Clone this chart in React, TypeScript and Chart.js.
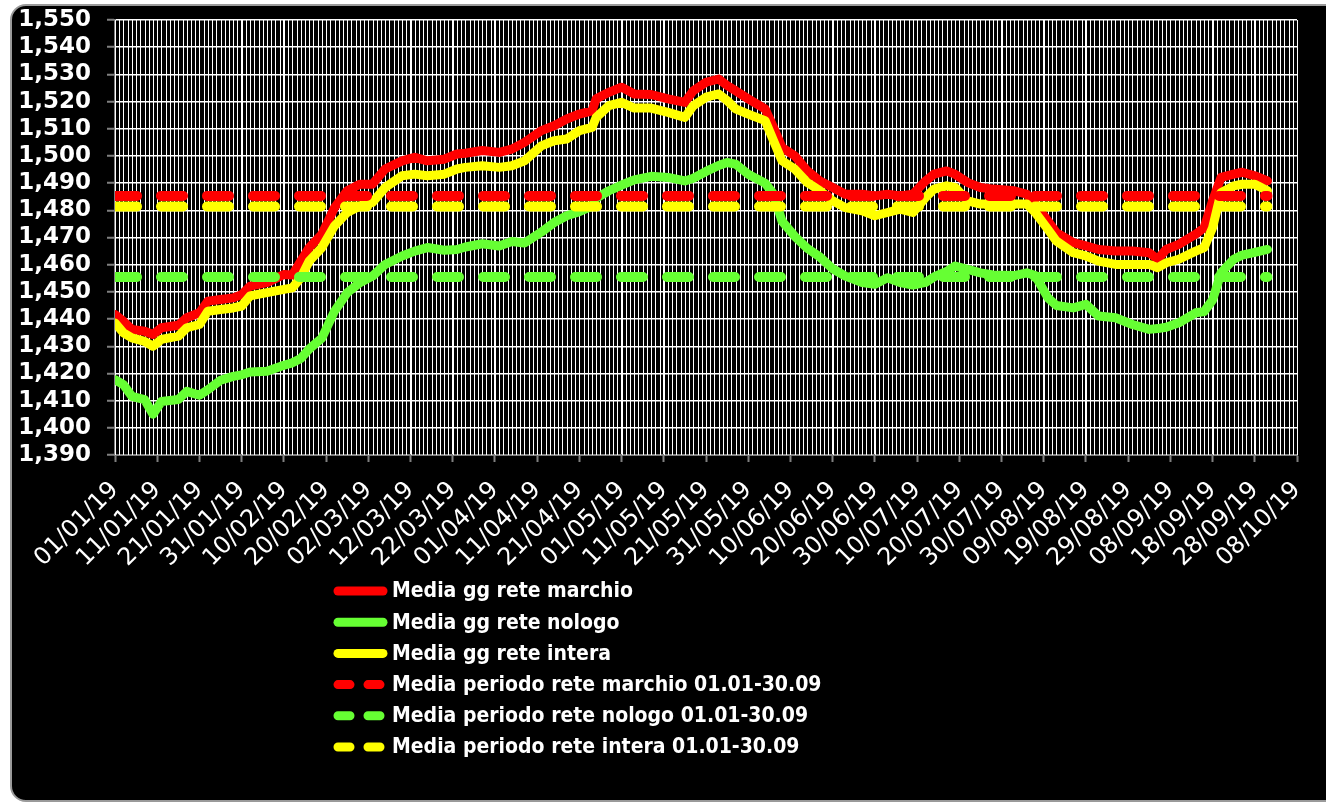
import React, { useEffect, useRef } from 'react';
import { Chart, registerables } from 'chart.js';

Chart.register(...registerables);

// x tick labels, one every 10 days starting 01/01/19 (day 0) up to 08/10/19 (day 280)
const tickLabels = [
  '01/01/19', '11/01/19', '21/01/19', '31/01/19', '10/02/19', '20/02/19', '02/03/19',
  '12/03/19', '22/03/19', '01/04/19', '11/04/19', '21/04/19', '01/05/19', '11/05/19',
  '21/05/19', '31/05/19', '10/06/19', '20/06/19', '30/06/19', '10/07/19', '20/07/19',
  '30/07/19', '09/08/19', '19/08/19', '29/08/19', '08/09/19', '18/09/19', '28/09/19',
  '08/10/19',
];

// day index (0 = 01/01/19) of each sampled value
const days = [
  0, 2, 4, 7, 9, 11, 15, 17, 20, 22, 25, 28, 30, 32, 36, 40, 42, 44, 46, 49, 52, 55, 58, 61, 64, 68, 71, 74, 78, 81, 83, 87,
  91, 94, 97, 101, 104, 107, 110, 113, 114, 117, 120, 123, 127, 131, 135, 137, 140, 143, 145, 147, 150, 154, 156, 158, 161, 164, 167, 170, 173, 177, 180, 183,
  186, 189, 192, 194, 197, 199, 202, 205, 208, 213, 216, 218, 221, 223, 227, 230, 233, 237, 241, 245, 247, 249, 252, 256, 258, 260, 262, 265, 267, 270, 273,
];

const reteMarchio = [
  1441.7, 1439.2, 1436.2, 1435.5, 1434.3, 1436.8, 1437.7, 1440.5, 1442.3, 1446.6, 1447.2, 1447.8, 1449, 1452.1, 1453.4, 1456.4, 1456.2, 1461.3, 1466.3, 1471.2, 1481, 1487.2, 1489.6, 1489.6, 1495.2, 1498.2, 1499.5, 1498.2, 1498.8, 1500.7, 1501, 1502,
  1501.3, 1502.5, 1505, 1509.3, 1511.1, 1513.6, 1515.4, 1516.6, 1521, 1523.4, 1525.3, 1522.8, 1522.6, 1521, 1519.7, 1524, 1527.1, 1528.3, 1525.9, 1524, 1521, 1517.3, 1510.5, 1503.1, 1500.1, 1494.5, 1490.8, 1488.4, 1485.9, 1485.9, 1485.3, 1485.9,
  1485.3, 1485.9, 1490.8, 1493.3, 1494.5, 1493.3, 1490.2, 1488.4, 1487.8, 1487.2, 1485.9, 1482.3, 1476.1, 1471.8, 1468.1, 1466.9, 1465.6, 1465, 1465, 1464.4, 1462, 1465.6, 1467.5, 1471.2, 1473.6, 1483.5, 1492.1, 1493.3, 1494, 1492.7, 1490.8,
];

const reteNologo = [
  1417.7, 1415.9, 1411.6, 1410.4, 1405, 1409.7, 1410.4, 1413.4, 1412, 1414, 1417.5, 1418.9, 1419.5, 1420.5, 1420.8, 1423, 1423.9, 1425.5, 1429, 1433, 1442.9, 1449.7, 1453.4, 1455.8, 1460.1, 1463.2, 1465, 1466.3, 1465.3, 1465.6, 1466.5, 1467.7,
  1466.9, 1468.5, 1468, 1472, 1475.5, 1478, 1479.5, 1481.5, 1484.5, 1487.2, 1489.3, 1491.2, 1492.5, 1492.1, 1490.8, 1491.8, 1494.3, 1496.5, 1497.6, 1497, 1493.3, 1490, 1486, 1476, 1470.5, 1466, 1462.8, 1458.5, 1455.8, 1453.4, 1452.8, 1455.2,
  1453.4, 1452.5, 1453.5, 1455.5, 1457.5, 1459.5, 1458.3, 1457, 1456.2, 1456, 1457, 1456, 1447.8, 1445, 1444.1, 1445.4, 1441.1, 1440.5, 1438, 1436.2, 1436.5, 1437, 1438.6, 1442.3, 1442.8, 1447, 1457, 1462, 1463.5, 1464.5, 1465.6,
];

const reteIntera = [
  1438.6, 1434.9, 1433.1, 1431.8, 1430, 1432.5, 1433.7, 1436.8, 1438, 1442.9, 1443.5, 1444.1, 1444.8, 1448.5, 1449.7, 1450.9, 1451.5, 1455.2, 1461.3, 1466.3, 1474.3, 1479.2, 1481.6, 1482.9, 1488.4, 1492.7, 1493.3, 1492.7, 1493.3, 1495.2, 1495.8, 1496.4,
  1495.8, 1496.4, 1498.2, 1503.7, 1505.6, 1506.2, 1509.3, 1510.5, 1514.2, 1518.5, 1519.7, 1517.6, 1517.6, 1516, 1514.2, 1518.5, 1521.6, 1522.8, 1520.4, 1517.3, 1515.4, 1513, 1505.6, 1498.2, 1495.2, 1490.2, 1487.2, 1483.5, 1481, 1479.8, 1478, 1479.2,
  1480.4, 1479.2, 1484.7, 1487.8, 1489, 1488.4, 1483.5, 1482.3, 1482.3, 1482.3, 1482.3, 1479.2, 1473, 1468.7, 1464.4, 1463.2, 1461.3, 1460.1, 1460.1, 1460.1, 1458.9, 1460.7, 1462, 1465, 1466.3, 1473.6, 1486.5, 1489, 1489.6, 1489.6, 1487.2,
];

// period averages 01.01-30.09 (day 0 to day 273)
const periodDays = [0, 273];
const mediaPeriodoMarchio = [1485.3, 1485.3];
const mediaPeriodoNologo = [1455.5, 1455.5];
const mediaPeriodoIntera = [1481.4, 1481.4];

const labels = [
  'Media gg rete marchio',
  'Media gg rete nologo',
  'Media gg rete intera',
  'Media periodo rete marchio 01.01-30.09',
  'Media periodo rete nologo 01.01-30.09',
  'Media periodo rete intera 01.01-30.09',
];

const X_MIN = 0;
const X_MAX = 280;
const Y_MIN = 1390;
const Y_MAX = 1550;
const Y_STEP = 10;

const RED = '#FF0000';
const GREEN = '#66FF33';
const YELLOW = '#FFFF00';

const toPoints = (xs: number[], ys: number[]) => xs.map((x, i) => ({ x, y: ys[i] }));

const LEGEND_TOP = 591;
const LEGEND_ROW = 31.2;

// one white vertical grid line per day (the axis only labels every 10th day)
const dailyGridPlugin = {
  id: 'dailyGrid',
  beforeDatasetsDraw(chart: any) {
    const { ctx, chartArea } = chart;
    const xs = chart.scales.x;
    ctx.save();
    ctx.strokeStyle = '#FFFFFF';
    ctx.lineWidth = 1;
    ctx.beginPath();
    for (let d = X_MIN; d <= X_MAX; d++) {
      const px = Math.round(xs.getPixelForValue(d)) + 0.5;
      ctx.moveTo(px, chartArea.top);
      ctx.lineTo(px, chartArea.bottom);
    }
    ctx.stroke();
    ctx.restore();
  },
};

const legendPlugin = {
  id: 'stackedLegend',
  afterDraw(chart: any) {
    const ctx = chart.ctx as CanvasRenderingContext2D;
    ctx.save();
    chart.data.datasets.forEach((ds: any, i: number) => {
      const y = LEGEND_TOP + i * LEGEND_ROW;
      ctx.strokeStyle = ds.borderColor;
      ctx.lineWidth = 9;
      ctx.lineCap = 'round';
      ctx.beginPath();
      if (ds.borderDash && ds.borderDash.length) {
        ctx.moveTo(338, y);
        ctx.lineTo(350, y);
        ctx.moveTo(368, y);
        ctx.lineTo(380, y);
      } else {
        ctx.moveTo(338, y);
        ctx.lineTo(383, y);
      }
      ctx.stroke();
      ctx.fillStyle = '#FFFFFF';
      ctx.font = 'bold 21px "DejaVu Sans Condensed", "DejaVu Sans", sans-serif';
      ctx.textBaseline = 'middle';
      ctx.textAlign = 'left';
      ctx.fillText(ds.label, 392, y + 1);
    });
    ctx.restore();
  },
};

export default function App() {
  const ref = useRef<HTMLCanvasElement | null>(null);

  useEffect(() => {
    if (!ref.current) return;
    const solid = (label: string, color: string, data: number[], order: number) => ({
      label,
      data: toPoints(days, data),
      borderColor: color,
      backgroundColor: color,
      borderWidth: 9,
      borderJoinStyle: 'round' as const,
      borderCapStyle: 'round' as const,
      pointRadius: 0,
      tension: 0,
      fill: false,
      order,
    });
    const dashed = (label: string, color: string, data: number[], order: number) => ({
      label,
      data: toPoints(periodDays, data),
      borderColor: color,
      backgroundColor: color,
      borderWidth: 10,
      borderDash: [22, 24],
      borderCapStyle: 'round' as const,
      pointRadius: 0,
      tension: 0,
      fill: false,
      order,
    });

    const chart = new Chart(ref.current, {
      type: 'line',
      data: {
        datasets: [
          solid(labels[0], RED, reteMarchio, 6),
          solid(labels[1], GREEN, reteNologo, 5),
          solid(labels[2], YELLOW, reteIntera, 4),
          dashed(labels[3], RED, mediaPeriodoMarchio, 3),
          dashed(labels[4], GREEN, mediaPeriodoNologo, 2),
          dashed(labels[5], YELLOW, mediaPeriodoIntera, 1),
        ],
      },
      options: {
        animation: false,
        responsive: false,
        devicePixelRatio: 1,
        layout: { padding: { left: 0, top: 20, right: 29, bottom: 227 } },
        plugins: {
          legend: { display: false },
          tooltip: { enabled: false },
        },
        scales: {
          x: {
            type: 'linear',
            min: X_MIN,
            max: X_MAX,
            afterBuildTicks: (scale: any) => {
              const t = [];
              for (let d = X_MIN; d <= X_MAX; d += 10) t.push({ value: d });
              scale.ticks = t;
            },
            afterFit: (scale: any) => {
              scale.height = 120;
              scale.paddingLeft = 0;
              scale.paddingRight = 0;
            },
            grid: {
              color: '#FFFFFF',
              lineWidth: 1,
              drawTicks: true,
              tickLength: 7,
              tickColor: '#808080',
              tickWidth: 2,
            },
            border: { color: '#808080', width: 2 },
            ticks: {
              autoSkip: false,
              minRotation: 45,
              maxRotation: 45,
              padding: 14,
              color: '#FFFFFF',
              font: { family: '"DejaVu Sans", sans-serif', size: 24 },
              callback: (value: any) => tickLabels[Math.round(Number(value) / 10)],
            },
          },
          y: {
            min: Y_MIN,
            max: Y_MAX,
            afterBuildTicks: (scale: any) => {
              const t = [];
              for (let v = Y_MIN; v <= Y_MAX; v += Y_STEP) t.push({ value: v });
              scale.ticks = t;
            },
            afterFit: (scale: any) => {
              scale.width = 115;
              scale.paddingTop = 0;
              scale.paddingBottom = 0;
            },
            grid: {
              color: '#FFFFFF',
              lineWidth: 1.5,
              tickLength: 8,
              tickColor: '#808080',
              tickWidth: 2,
            },
            border: { color: '#808080', width: 2 },
            ticks: {
              autoSkip: false,
              padding: 16,
              color: '#FFFFFF',
              font: { family: '"DejaVu Sans", sans-serif', size: 23, weight: 'bold' },
              callback: (value: any) => Number(value).toLocaleString('en-US'),
            },
          },
        },
      },
      plugins: [dailyGridPlugin, legendPlugin],
    } as any);

    return () => chart.destroy();
  }, []);

  return (
    <div style={{ position: 'fixed', left: 0, top: 0, width: 1326, height: 802, overflow: 'hidden', background: '#FFFFFF' }}>
      <div
        style={{
          position: 'absolute',
          left: 10,
          top: 4,
          width: 1340,
          height: 794,
          background: '#000000',
          border: '2px solid #9A9A9A',
          borderRadius: 16,
        }}
      />
      <canvas ref={ref} width={1326} height={802} style={{ position: 'absolute', left: 0, top: 0 }} />
    </div>
  );
}
